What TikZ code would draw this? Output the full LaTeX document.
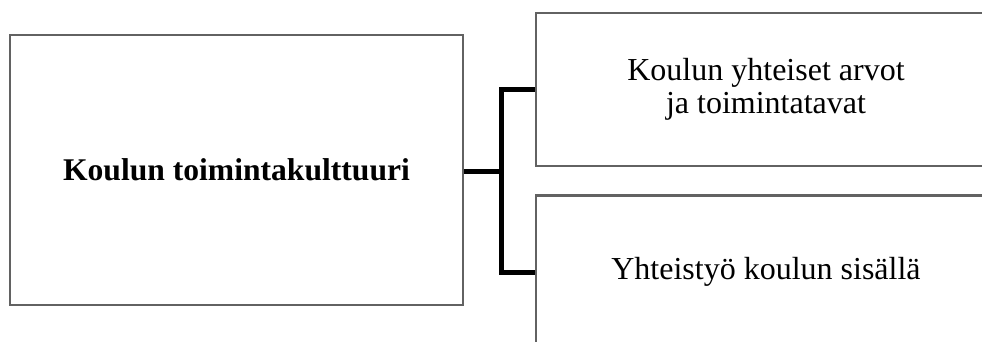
\documentclass[tikz,border=0pt]{standalone}
\usepackage{fontspec}
\setmainfont{Liberation Serif}
\definecolor{frame}{RGB}{98,98,98}
\begin{document}
\begin{tikzpicture}[x=1pt,y=-1pt,
  box/.style={draw=frame, line width=2.6pt, fill=white,
    inner sep=0pt, align=center},
  branch/.style={draw=black, line width=5pt, line join=miter},
  plain/.style={font=\fontsize{32}{33}\selectfont},
  heading/.style={font=\fontsize{31.6}{34}\selectfont\bfseries}]
\useasboundingbox (0,0) rectangle (982,342);
\clip (0,0) rectangle (982,342);
\fill[white] (0,0) rectangle (982,342);

% main concept
\node[box, heading, minimum width=453pt, minimum height=270pt]
  (main) at (236.5,170) {Koulun toimintakulttuuri};

% two sub-areas
\node[box, plain, minimum width=460pt, minimum height=153pt]
  (values) at (766,89.5) {Koulun yhteiset arvot\\ja toimintatavat};
\node[box, plain, minimum width=460pt, minimum height=153pt]
  (coop) at (766,272) {Yhteistyö koulun sisällä};

% bracket linking the main concept to the sub-areas
\coordinate (fork) at (501,171);
\draw[branch] (main.east |- fork) -- (fork);
\draw[branch] (values.west) -| (fork) |- (coop.west);
\end{tikzpicture}
\end{document}
